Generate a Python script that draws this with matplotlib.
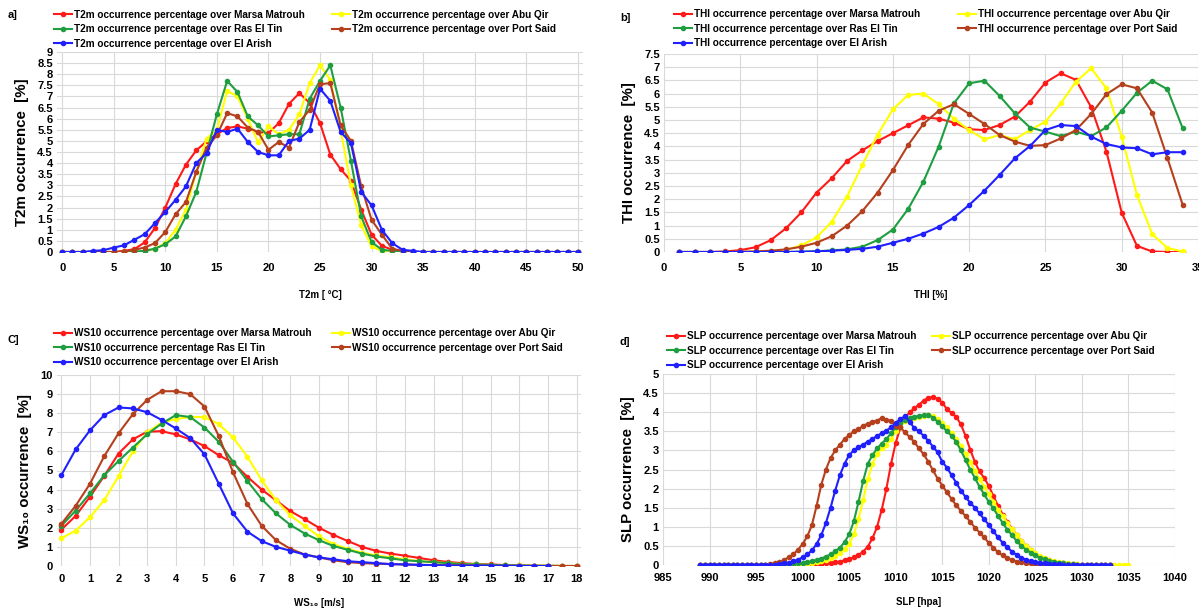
import numpy as np
import matplotlib
matplotlib.use("Agg")
from matplotlib import pyplot as plt
from matplotlib.lines import Line2D

plt.rcParams["font.family"] = ["Liberation Sans", "DejaVu Sans"]
plt.rcParams["font.weight"] = "bold"

stations = ["Marsa Matrouh", "Abu Qir", "Ras El Tin", "Port Said", "El Arish"]
colors = ["#ff1a1a", "#ffff00", "#1e9e40", "#b5401e", "#2020ff"]

# ---- a) T2m (x = 0..50 degC)
t2m_x = list(range(0, 51))
t2m_red = [0, 0, 0, 0, 0, 0, 0.05, 0.13, 0.43, 1.08,
           2.0, 3.06, 3.93, 4.57, 4.98, 5.3, 5.58, 5.65, 5.55, 5.4,
           5.35, 5.8, 6.67, 7.15, 6.7, 5.8, 4.38, 3.73, 3.2, 1.9,
           0.78, 0.28, 0.1, 0.03, 0] + [0] * 16
t2m_yellow = [0, 0, 0, 0, 0, 0, 0, 0, 0.05, 0.15,
              0.4, 1.0, 1.9, 3.6, 5.1, 5.5, 7.25, 7.0, 6.0, 4.93,
              5.65, 5.3, 5.5, 6.2, 7.6, 8.4, 7.75, 5.5, 3.0, 1.2,
              0.25, 0.05, 0, 0, 0] + [0] * 16
t2m_green = [0, 0, 0, 0, 0, 0, 0, 0.02, 0.05, 0.15,
             0.35, 0.7, 1.6, 2.7, 4.45, 6.2, 7.7, 7.2, 6.1, 5.7,
             5.2, 5.25, 5.3, 5.3, 6.9, 7.7, 8.4, 6.5, 4.1, 1.6,
             0.45, 0.1, 0.05, 0, 0] + [0] * 16
t2m_brown = [0, 0, 0, 0, 0, 0, 0.02, 0.1, 0.2, 0.4,
             0.9, 1.7, 2.25, 3.6, 4.7, 5.25, 6.25, 6.1, 5.6, 5.4,
             4.6, 4.95, 4.7, 5.85, 6.4, 7.55, 7.6, 5.7, 5.0, 2.95,
             1.45, 0.78, 0.15, 0.05, 0] + [0] * 16
t2m_blue = [0, 0, 0, 0.05, 0.08, 0.2, 0.3, 0.55, 0.8, 1.3,
            1.8, 2.35, 2.95, 4.0, 4.45, 5.5, 5.4, 5.55, 4.95, 4.5,
            4.35, 4.35, 5.0, 5.1, 5.5, 7.35, 6.8, 5.4, 4.9, 2.7,
            2.1, 1.0, 0.4, 0.1, 0.05] + [0] * 16

# ---- b) THI (x = 1..34)
thi_x = list(range(1, 35))
thi_red = [0, 0, 0, 0.02, 0.07, 0.18, 0.45, 0.9, 1.5, 2.25,
           2.8, 3.45, 3.85, 4.2, 4.5, 4.8, 5.1, 5.05, 4.9, 4.65,
           4.62, 4.81, 5.13, 5.7, 6.42, 6.77, 6.52, 5.48, 3.8, 1.49,
           0.23, 0.02, 0, 0]
thi_yellow = [0, 0, 0, 0, 0, 0.01, 0.03, 0.08, 0.25, 0.55,
              1.15, 2.1, 3.3, 4.45, 5.4, 5.95, 6.0, 5.6, 5.05, 4.62,
              4.27, 4.43, 4.27, 4.62, 4.94, 5.63, 6.45, 6.96, 6.2, 4.37,
              2.16, 0.68, 0.15, 0.02]
thi_green = [0, 0, 0, 0, 0, 0, 0, 0, 0.01, 0.03,
             0.06, 0.1, 0.2, 0.45, 0.85, 1.63, 2.66, 3.99, 5.63, 6.39,
             6.49, 5.91, 5.25, 4.71, 4.56, 4.39, 4.56, 4.39, 4.72, 5.35,
             6.03, 6.49, 6.16, 4.68]
thi_brown = [0, 0, 0, 0, 0.01, 0.02, 0.05, 0.1, 0.2, 0.35,
             0.6, 1.0, 1.55, 2.25, 3.1, 4.05, 4.85, 5.35, 5.6, 5.23,
             4.85, 4.43, 4.18, 4.02, 4.05, 4.3, 4.62, 5.23, 5.98, 6.35,
             6.2, 5.28, 3.55, 1.78]
thi_blue = [0, 0, 0, 0, 0, 0, 0, 0, 0.01, 0.02,
            0.05, 0.08, 0.12, 0.2, 0.35, 0.5, 0.7, 0.95, 1.3, 1.78,
            2.32, 2.92, 3.55, 4.02, 4.62, 4.81, 4.77, 4.37, 4.09, 3.96,
            3.93, 3.7, 3.78, 3.78]

# ---- c) WS10 (x = 0..18 by 0.5, El Arish to 17)
ws_x = [i * 0.5 for i in range(37)]
ws_red = [1.9, 2.62, 3.62, 4.72, 5.89, 6.63, 7.03, 7.06, 6.89, 6.63,
          6.28, 5.8, 5.4, 4.67, 4.0, 3.44, 2.87, 2.45, 2.0, 1.63,
          1.31, 1.0, 0.79, 0.65, 0.54, 0.42, 0.3, 0.21, 0.15, 0.1,
          0.08, 0.05, 0.03, 0.02, 0.01, 0.0, 0.0]
ws_yellow = [1.45, 1.85, 2.55, 3.45, 4.7, 6.0, 7.0, 7.5, 7.7, 7.8,
             7.8, 7.43, 6.73, 5.72, 4.49, 3.44, 2.65, 2.1, 1.55, 1.15,
             0.9, 0.7, 0.55, 0.45, 0.35, 0.25, 0.2, 0.15, 0.1, 0.08,
             0.05, 0.04, 0.03, 0.02, 0.01, 0.0, 0.0]
ws_green = [2.1, 2.9, 3.8, 4.75, 5.5, 6.2, 6.9, 7.45, 7.9, 7.8,
            7.25, 6.5, 5.45, 4.45, 3.5, 2.75, 2.15, 1.7, 1.35, 1.05,
            0.85, 0.65, 0.5, 0.4, 0.3, 0.25, 0.2, 0.15, 0.1, 0.08,
            0.06, 0.04, 0.02, 0.01, 0.01, 0.0, 0.0]
ws_brown = [2.2, 3.15, 4.3, 5.75, 6.95, 7.95, 8.7, 9.15, 9.15, 9.0,
            8.35, 6.8, 4.9, 3.25, 2.1, 1.35, 0.9, 0.6, 0.45, 0.3,
            0.2, 0.15, 0.12, 0.1, 0.08, 0.06, 0.05, 0.04, 0.03, 0.02,
            0.02, 0.01, 0.01, 0.0, 0.0, 0.0, 0.0]
ws_blue = [4.75, 6.1, 7.1, 7.9, 8.3, 8.25, 8.05, 7.65, 7.2, 6.7,
           5.85, 4.3, 2.75, 1.8, 1.3, 1.0, 0.8, 0.6, 0.45, 0.35,
           0.25, 0.2, 0.15, 0.1, 0.08, 0.06, 0.04, 0.03, 0.02, 0.02,
           0.01, 0.01, 0.01, 0.0, 0.0]

# ---- d) SLP (x = 989..1033 by 0.5, Abu Qir to 1035)
slp_x = [989 + i * 0.5 for i in range(93)]
slp_red = [0.0] * 23 + [
    0.01, 0.01, 0.02, 0.03, 0.04, 0.05, 0.07, 0.09, 0.12, 0.15,
    0.2, 0.26, 0.35, 0.48, 0.7, 1.0, 1.45, 2.0, 2.65, 3.2,
    3.6, 3.85, 4.0, 4.1, 4.2, 4.3, 4.38, 4.4, 4.35, 4.25,
    4.08, 3.98, 3.88, 3.68, 3.38, 3.02, 2.7, 2.45, 2.28, 2.07,
    1.8, 1.55, 1.32, 1.12, 0.95, 0.78, 0.63, 0.5, 0.39, 0.3,
    0.22, 0.16, 0.12, 0.09, 0.06, 0.04, 0.03, 0.02, 0.01, 0.01] + [0.0] * 6
slp_yellow = [0.0] * 20 + [
    0.01, 0.01, 0.02, 0.03, 0.05, 0.07, 0.1, 0.13, 0.18, 0.24,
    0.32, 0.42, 0.55, 0.8, 1.2, 1.7, 2.25, 2.65, 2.9, 3.05,
    3.15, 3.3, 3.5, 3.68, 3.78, 3.83, 3.86, 3.88, 3.9, 3.92,
    3.9, 3.82, 3.72, 3.6, 3.45, 3.3, 3.12, 2.9, 2.7, 2.45,
    2.25, 2.05, 1.85, 1.65, 1.45, 1.28, 1.1, 0.93, 0.78, 0.63,
    0.5, 0.4, 0.31, 0.24, 0.18, 0.13, 0.1, 0.07, 0.05, 0.04,
    0.03, 0.02, 0.01, 0.01] + [0.0] * 9
slp_green = [0.0] * 18 + [
    0.01, 0.02, 0.03, 0.04, 0.05, 0.07, 0.1, 0.13, 0.17, 0.22,
    0.28, 0.36, 0.45, 0.6, 0.8, 1.15, 1.65, 2.2, 2.65, 2.88,
    3.05, 3.18, 3.3, 3.45, 3.6, 3.72, 3.8, 3.85, 3.88, 3.9,
    3.93, 3.93, 3.86, 3.75, 3.63, 3.5, 3.38, 3.22, 3.0, 2.75,
    2.5, 2.28, 2.05, 1.85, 1.65, 1.48, 1.28, 1.1, 0.92, 0.78,
    0.62, 0.5, 0.4, 0.32, 0.25, 0.19, 0.15, 0.11, 0.08, 0.06,
    0.04, 0.03, 0.02, 0.01] + [0.0] * 7
slp_brown = [0.0] * 14 + [
    0.01, 0.03, 0.05, 0.08, 0.13, 0.2, 0.28, 0.4, 0.55, 0.75,
    1.05, 1.55, 2.1, 2.5, 2.8, 3.0, 3.15, 3.3, 3.4, 3.5,
    3.55, 3.65, 3.7, 3.75, 3.78, 3.85, 3.8, 3.78, 3.65, 3.6,
    3.47, 3.35, 3.22, 3.05, 2.9, 2.7, 2.48, 2.26, 2.08, 1.9,
    1.73, 1.56, 1.42, 1.28, 1.13, 0.98, 0.85, 0.72, 0.58, 0.45,
    0.33, 0.25, 0.18, 0.13, 0.09, 0.07, 0.05, 0.04, 0.03, 0.02,
    0.01] + [0.0] * 14
slp_blue = [0.0] * 17 + [
    0.02, 0.04, 0.06, 0.1, 0.14, 0.2, 0.28, 0.38, 0.55, 0.78,
    1.1, 1.5, 1.95, 2.35, 2.65, 2.88, 3.0, 3.08, 3.15, 3.23,
    3.3, 3.38, 3.45, 3.52, 3.6, 3.72, 3.82, 3.9, 3.75, 3.58,
    3.5, 3.38, 3.25, 3.1, 2.95, 2.7, 2.55, 2.35, 2.15, 1.95,
    1.78, 1.63, 1.5, 1.35, 1.2, 1.05, 0.88, 0.72, 0.58, 0.46,
    0.35, 0.26, 0.19, 0.14, 0.1, 0.08, 0.06, 0.04, 0.03, 0.02,
    0.02, 0.01] + [0.0] * 10

W, H = 1199, 609
fig = plt.figure(figsize=(W / 100, H / 100), dpi=100)


def px_axes(left, top, right, bottom):
    return fig.add_axes([left / W, 1 - bottom / H, (right - left) / W, (bottom - top) / H])


def panel(ax, series, labels, xlim, xticks, ylim, ystep, xlabel, ylabel,
          legend_anchor, colspace, tag, tag_xy, xpad=6, xlabelpad=10):
    for (x, y), c in zip(series, colors):
        ax.plot(x[:len(y)], y, color=c, lw=1.5, marker="o", ms=3, zorder=3)
    ax.set_xlim(*xlim)
    ax.set_ylim(*ylim)
    ax.set_xticks(xticks)
    yt = np.arange(ylim[0], ylim[1] + 1e-9, ystep)
    ax.set_yticks(yt)
    ax.set_yticklabels([f"{v:g}" for v in yt])
    ax.tick_params(length=0, labelsize=8)
    ax.tick_params(axis="y", pad=3)
    ax.tick_params(axis="x", pad=xpad)
    for lab in ax.get_xticklabels() + ax.get_yticklabels():
        lab.set_fontweight("bold")
    ax.grid(True, color="#d9d9d9", lw=0.8)
    for s in ax.spines.values():
        s.set_visible(False)
    ax.set_xlabel(xlabel, fontsize=7, fontweight="bold", labelpad=xlabelpad)
    ax.set_ylabel(ylabel, fontsize=10.8, fontweight="bold", labelpad=6)
    handles = [Line2D([], [], color=c, lw=1.5, marker="o", ms=3) for c in colors]
    order = [0, 2, 4, 1, 3]
    ax.legend([handles[i] for i in order], [labels[i] for i in order], ncol=2,
              loc="lower left", bbox_to_anchor=legend_anchor, frameon=False,
              handlelength=1.8, handletextpad=0.2,
              columnspacing=colspace, labelspacing=0.45, borderaxespad=0,
              prop={"weight": "bold", "size": 7.2})
    fig.text(tag_xy[0] / W, 1 - tag_xy[1] / H, tag, fontsize=8, fontweight="bold",
             ha="left", va="center")


ax_a = px_axes(57, 52, 583, 252)
panel(ax_a,
      [(t2m_x, t2m_red), (t2m_x, t2m_yellow), (t2m_x, t2m_green), (t2m_x, t2m_brown), (t2m_x, t2m_blue)],
      [f"T2m occurrence percentage over {s}" for s in stations],
      (-0.5, 50.5), range(0, 51, 5), (0, 9), 0.5, "T2m [ \u00b0C]", "T2m occurrence  [%]",
      (-0.013, 0.995), 2.7, "a]", (8, 15), xpad=8, xlabelpad=12)

ax_b = px_axes(664, 54, 1198, 252)
panel(ax_b,
      [(thi_x, thi_red), (thi_x, thi_yellow), (thi_x, thi_green), (thi_x, thi_brown), (thi_x, thi_blue)],
      [f"THI occurrence percentage over {s}" for s in stations],
      (0, 35), range(0, 36, 5), (0, 7.5), 0.5, "THI [%]", "THI occurrence  [%]",
      (0.012, 1.01), 3.7, "b]", (620, 18), xpad=8, xlabelpad=12)

ax_c = px_axes(57, 375, 581, 566)
ws_labels = ["WS10 occurrence percentage over Marsa Matrouh", "WS10 occurrence percentage over Abu Qir",
             "WS10 occurrence percentage Ras El Tin", "WS10 occurrence percentage over Port Said",
             "WS10 occurrence percentage over El Arish"]
panel(ax_c,
      [(ws_x, ws_red), (ws_x, ws_yellow), (ws_x, ws_green), (ws_x, ws_brown), (ws_x, ws_blue)],
      ws_labels, (-0.15, 18.15), range(0, 19), (0, 10), 1, "WS\u2081\u2080 [m/s]",
      "WS\u2081\u2080 occurrence  [%]", (-0.013, 1.02), 2.0, "C]", (8, 340), xpad=6, xlabelpad=10)

ax_d = px_axes(663, 374, 1175, 565)
panel(ax_d,
      [(slp_x, slp_red), (slp_x, slp_yellow), (slp_x, slp_green), (slp_x, slp_brown), (slp_x, slp_blue)],
      [f"SLP occurrence percentage over {s}" for s in stations],
      (985, 1040), range(985, 1041, 5), (0, 5), 0.5, "SLP [hpa]", "SLP occurrence  [%]",
      (0.0, 0.998), 1.6, "d]", (620, 342), xpad=6, xlabelpad=10)

fig.savefig("out.png", dpi=100)
